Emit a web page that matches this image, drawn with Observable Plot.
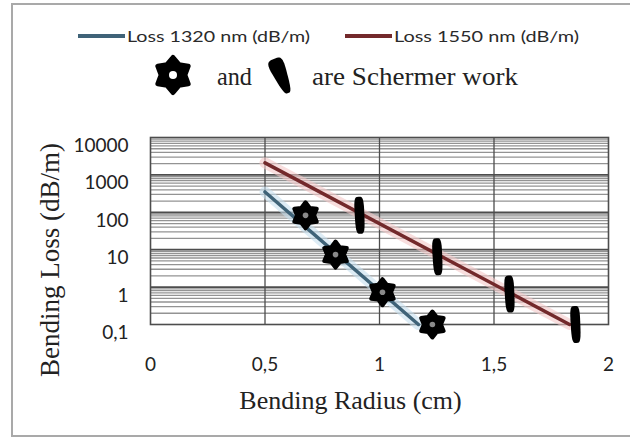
<!DOCTYPE html>
<html>
<head>
<meta charset="utf-8">
<script src="https://cdn.jsdelivr.net/npm/d3@7"></script>
<script src="https://cdn.jsdelivr.net/npm/@observablehq/plot@0.6"></script>
<style>
  html, body { margin: 0; padding: 0; background: #fff; overflow: hidden; }
  #wrap { position: relative; width: 630px; height: 437px; }
  #border { position: absolute; left: 11px; top: 3px; width: 700px; height: 430px;
            border: 2px solid #a9a9a9; border-right: none; pointer-events: none; }
  #legend { display: block; width: 630px; height: 120px; }
  #chart svg { display: block; }
</style>
</head>
<body>
<div id="wrap">
  <div id="border"></div>
  <svg id="legend" width="630" height="120"></svg>
  <div id="chart"></div>
</div>
<script>
// ---- data ----
const seriesNames = ["Loss 1320 nm (dB/m)", "Loss 1550 nm (dB/m)"];
const seriesColors = ["#3f6378", "#73292b"];
const glowColors = ["#c6e0ee", "#f4c8c8"];
const noteWords = ["and", "are Schermer work"];

const xTicks = [0, 0.5, 1, 1.5, 2];
const xTickLabels = ["0", "0,5", "1", "1,5", "2"];
const yTicks = [0.1, 1, 10, 100, 1000, 10000];
const yTickLabels = ["0,1", "1", "10", "100", "1000", "10000"];

const loss1320X = [0.5, 1.17];
const loss1320Y = [350, 0.1];
const loss1550X = [0.5, 1.83];
const loss1550Y = [2100, 0.1];

const starX = [0.677, 0.808, 1.013, 1.231];
const starY = [83, 7.4, 0.73, 0.1];
const blobX = [0.913, 1.253, 1.568, 1.856];
const blobY = [83, 6.5, 0.65, 0.1];

const xTitle = "Bending Radius (cm)";
const yTitle = "Bending Loss (dB/m)";

// ---- symbols ----
function hexagramPath(ctx, R, ratio) {
  const r = R * ratio;
  for (let i = 0; i < 12; i++) {
    const a = -Math.PI / 2 + i * Math.PI / 6;
    const rr = i % 2 ? r : R;
    const x = rr * Math.cos(a), y = rr * Math.sin(a);
    if (i) ctx.lineTo(x, y); else ctx.moveTo(x, y);
  }
  ctx.closePath();
}
function blobPath(ctx, h, wRatio, tilt, taper) {
  const w = h * wRatio;
  const n = 48;
  for (let i = 0; i <= n; i++) {
    const t = i / n * 2 * Math.PI;
    const c = Math.cos(t), s = Math.sin(t);
    let x = w * Math.sign(c) * Math.pow(Math.abs(c), 0.5);
    const y = h * Math.sign(s) * Math.pow(Math.abs(s), 0.6);
    x *= 1 - taper * (y / h);
    const xr = x * Math.cos(tilt) - y * Math.sin(tilt);
    const yr = x * Math.sin(tilt) + y * Math.cos(tilt);
    if (i) ctx.lineTo(xr, yr); else ctx.moveTo(xr, yr);
  }
  ctx.closePath();
}
const hexagram = { draw(ctx, size) { hexagramPath(ctx, Math.sqrt(size / Math.PI), 0.66); } };
const blob = { draw(ctx, size) { blobPath(ctx, Math.sqrt(size / Math.PI), 0.26, -0.05, 0.05); } };

// ---- legend ----
const leg = d3.select("#legend");
const legX = [[78, 125, 127, 183], [345, 392, 394, 185]];
seriesNames.forEach((name, i) => {
  const [x1, x2, tx, tl] = legX[i];
  leg.append("line").attr("x1", x1).attr("x2", x2).attr("y1", 36).attr("y2", 36)
    .attr("stroke", seriesColors[i]).attr("stroke-width", 4);
  leg.append("text").attr("x", tx).attr("y", 42)
    .attr("font-family", "Lato, 'Open Sans', sans-serif").attr("font-size", 15.5)
    .attr("fill", "#2a2a2a").attr("textLength", tl).attr("lengthAdjust", "spacingAndGlyphs")
    .text(name);
});
{
  const p = d3.path(); hexagramPath(p, 17.5, 0.68);
  leg.append("path").attr("d", p.toString()).attr("transform", "translate(173,75)")
    .attr("fill", "#000").attr("stroke", "#000").attr("stroke-width", 5).attr("stroke-linejoin", "round");
  leg.append("circle").attr("cx", 173).attr("cy", 75).attr("r", 4).attr("fill", "#fff");
  const b = d3.path(); blobPath(b, 18.5, 0.36, -0.4, 0.4);
  leg.append("path").attr("d", b.toString()).attr("transform", "translate(281,76)").attr("fill", "#000");
  leg.append("text").attr("x", 217).attr("y", 85).attr("font-family", "'Liberation Serif', 'Times New Roman', serif")
    .attr("font-size", 25).attr("fill", "#222").attr("textLength", 35).attr("lengthAdjust", "spacingAndGlyphs").text(noteWords[0]);
  leg.append("text").attr("x", 312).attr("y", 85).attr("font-family", "'Liberation Serif', 'Times New Roman', serif")
    .attr("font-size", 26).attr("fill", "#222").attr("textLength", 206).attr("lengthAdjust", "spacingAndGlyphs").text(noteWords[1]);
}

// ---- chart ----
const minorY = [];
yTicks.slice(0, -1).forEach(d => { for (let k = 2; k <= 9; k++) minorY.push(d * k); });
const line1320 = loss1320X.map((x, i) => ({x, y: loss1320Y[i]}));
const line1550 = loss1550X.map((x, i) => ({x, y: loss1550Y[i]}));
const stars = starX.map((x, i) => ({x, y: starY[i]}));
const blobs = blobX.map((x, i) => ({x, y: blobY[i]}));
const sans = "Lato, 'Open Sans', sans-serif";
const serif = "'Liberation Serif', 'Times New Roman', serif";

const chart = Plot.plot({
  width: 630, height: 317,
  marginTop: 17, marginLeft: 150, marginRight: 22, marginBottom: 113,
  x: {domain: [0, 2], axis: null},
  y: {type: "log", domain: [0.1, 10000], axis: null},
  style: {background: "transparent", overflow: "visible"},
  marks: [
    Plot.ruleY(minorY, {stroke: "#939393", strokeWidth: 1.3}),
    Plot.ruleY(yTicks.slice(1, -1), {stroke: "#4d4d4d", strokeWidth: 1.8}),
    Plot.ruleX(xTicks.slice(1, -1), {stroke: "#4d4d4d", strokeWidth: 1.3}),
    Plot.frame({stroke: "#4d4d4d", strokeWidth: 1.6}),
    Plot.line(line1550, {x: "x", y: "y", stroke: glowColors[1], strokeWidth: 11, strokeOpacity: 0.6}),
    Plot.line(line1320, {x: "x", y: "y", stroke: glowColors[0], strokeWidth: 11, strokeOpacity: 0.6}),
    Plot.line(line1550, {x: "x", y: "y", stroke: seriesColors[1], strokeWidth: 3.5}),
    Plot.line(line1320, {x: "x", y: "y", stroke: seriesColors[0], strokeWidth: 3.5}),
    Plot.dot(stars, {x: "x", y: "y", symbol: hexagram, r: 13, fill: "#000", stroke: "#000", strokeWidth: 4, strokeLinejoin: "round"}),
    Plot.dot(stars, {x: "x", y: "y", r: 2.8, fill: "#8a8a8a", stroke: "none"}),
    Plot.dot(blobs, {x: "x", y: "y", symbol: blob, r: 18.5, fill: "#000", stroke: "none"}),
    Plot.text(yTicks, {y: d => d, text: (d, i) => yTickLabels[i], frameAnchor: "left", textAnchor: "end",
      lineAnchor: "middle", dx: -22, dy: 8.5, fontSize: 19, fontFamily: sans, fill: "#222"}),
    Plot.text(xTicks, {x: d => d, text: (d, i) => xTickLabels[i], frameAnchor: "bottom",
      lineAnchor: "middle", dy: 40, fontSize: 19, fontFamily: sans, fill: "#222"}),
    Plot.text([xTitle], {text: d => d, frameAnchor: "bottom", lineAnchor: "middle", dx: -29, dy: 76,
      fontSize: 26, fontFamily: serif, fill: "#222"}),
    Plot.text([yTitle], {text: d => d, frameAnchor: "left", textAnchor: "middle", rotate: -90, lineAnchor: "middle",
      dx: -100, dy: 29, fontSize: 27, fontFamily: serif, fill: "#222"})
  ]
});
document.getElementById("chart").appendChild(chart);
</script>
</body>
</html>
